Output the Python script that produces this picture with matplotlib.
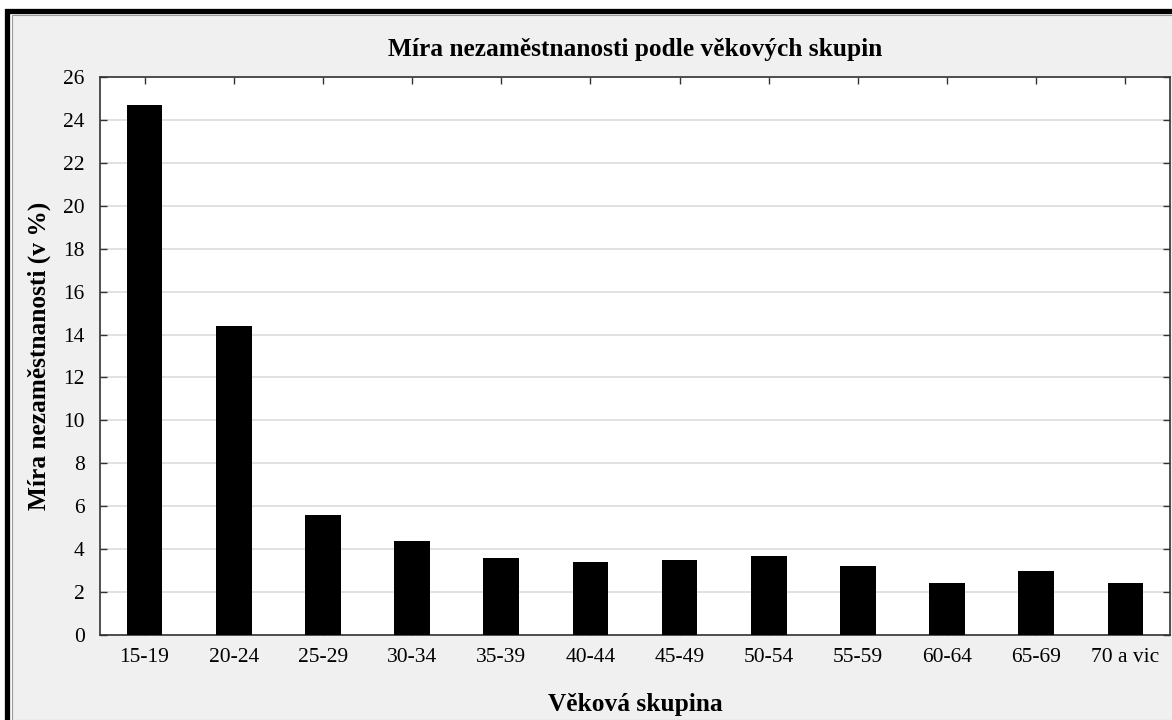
import matplotlib.pyplot as plt
from matplotlib.patches import Rectangle
import numpy as np

groups = ['15-19', '20-24', '25-29', '30-34', '35-39', '40-44',
          '45-49', '50-54', '55-59', '60-64', '65-69', '70 a vic']
rates = [24.7, 14.4, 5.6, 4.4, 3.6, 3.4, 3.5, 3.7, 3.2, 2.4, 3.0, 2.4]

plt.rcParams['font.family'] = ['Liberation Serif', 'DejaVu Serif']

W, H = 1172, 720
fig = plt.figure(figsize=(W / 100, H / 100), dpi=100)
fig.patch.set_facecolor('white')

# grey panel with the thick black frame on top and left
fig.patches.append(Rectangle((12 / W, 0), 1, 1 - 15 / H, transform=fig.transFigure,
                             facecolor='#f0f0f0', edgecolor='#999999', lw=0.8, zorder=-2))
fig.patches.append(Rectangle((7 / W, -0.1), 1.2, 1 - 11 / H + 0.1, transform=fig.transFigure,
                             facecolor='none', edgecolor='black', lw=3.8, zorder=-1))

ax = fig.add_axes([100 / W, 1 - 635 / H, 1070 / W, 558 / H])
ax.set_facecolor('white')

x = np.arange(len(groups))
ax.bar(x, rates, width=0.4, color='black', zorder=3)

ax.set_xlim(-0.5, len(groups) - 0.5)
ax.set_ylim(0, 26)
ax.set_yticks(np.arange(0, 27, 2))
ax.set_xticks(x)
ax.set_xticklabels(groups)
ax.grid(axis='y', color='#dcdcdc', lw=1.2, zorder=0)

ax.tick_params(direction='in', length=5, width=1, color='#333333',
               top=True, right=True, labelsize=15.5, pad=9)
ax.tick_params(axis='y', pad=11)
for s in ax.spines.values():
    s.set_color('#333333')
    s.set_linewidth(1.2)

ax.set_title('Míra nezaměstnanosti podle věkových skupin', fontsize=18.3,
             fontweight='bold', pad=15)
ax.set_xlabel('Věková skupina', fontsize=18.3, fontweight='bold', labelpad=19)
ax.set_ylabel('Míra nezaměstnanosti (v %)', fontsize=18.3, fontweight='bold', labelpad=9)

fig.savefig('out.png', dpi=100)
